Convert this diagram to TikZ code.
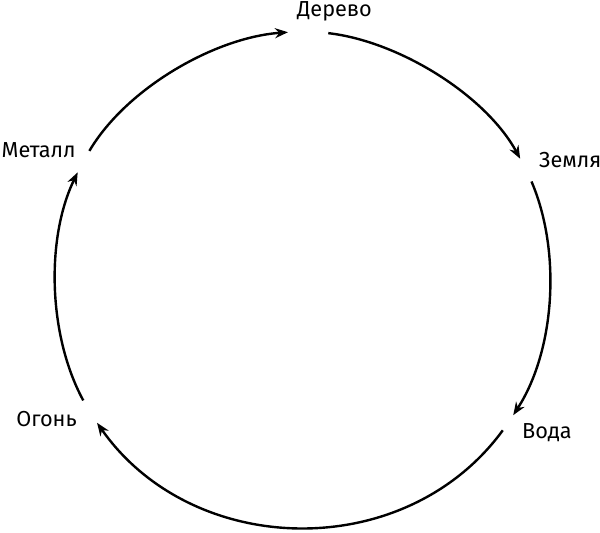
\documentclass[tikz,border=0pt]{standalone}
\usepackage{fontspec}
\setmainfont{Fira Sans}
\usetikzlibrary{arrows.meta}
\tikzset{>={Stealth[length=13pt,width=10pt]}}

\begin{document}
\begin{tikzpicture}[x=1pt, y=1pt, font=\fontsize{21.7}{26}\selectfont,
    elem/.style={circle, inner sep=0pt, minimum size=#1},
    elname/.style={inner sep=0pt},
    flow/.style={->, line width=2.4pt}]
    \useasboundingbox (0,0) rectangle (600,533);
    \coordinate (O) at (302.5,252);
    % points on the circle
    \node[elem=40pt] (der) at ([shift={(88.7:250)}]O) {};
    \node[elem=25pt] (zem) at ([shift={(26.4:250)}]O) {};
    \node[elem=18pt] (vod) at ([shift={(-34.6:250)}]O) {};
    \node[elem=26pt] (ogn) at ([shift={(-148.4:250)}]O) {};
    \node[elem=24pt] (met) at ([shift={(151.4:250)}]O) {};
    % names
    \node[elname, anchor=base west] (derT) at ([shift={(-11.2,14.1)}]der) {Дерево};
    \node[elname, anchor=base west] (zemT) at ([shift={(12.6,2.5)}]zem) {Земля};
    \node[elname, anchor=base west] (vodT) at ([shift={(13.7,-15.4)}]vod) {Вода};
    \node[elname, anchor=base east] (ognT) at ([shift={(-12.6,-14.7)}]ogn) {Огонь};
    \node[elname, anchor=base west] (metT) at ([shift={(-81.5,4)}]met) {Металл};
    \draw[flow] (der) to[out=26.57, in=151.76, relative, looseness=0.804] (zem);
    \draw[flow] (zem) to[out=27.64, in=151.56, relative, looseness=0.838] (vod);
    \draw[flow] (vod) to[out=54.84, in=126.08, relative, looseness=1.044] (ogn);
    \draw[flow] (ogn) to[out=27.12, in=152.65, relative, looseness=0.823] (met);
    \draw[flow] (met) to[out=28.6, in=153.23, relative, looseness=0.807] (der);
\end{tikzpicture}
\end{document}
